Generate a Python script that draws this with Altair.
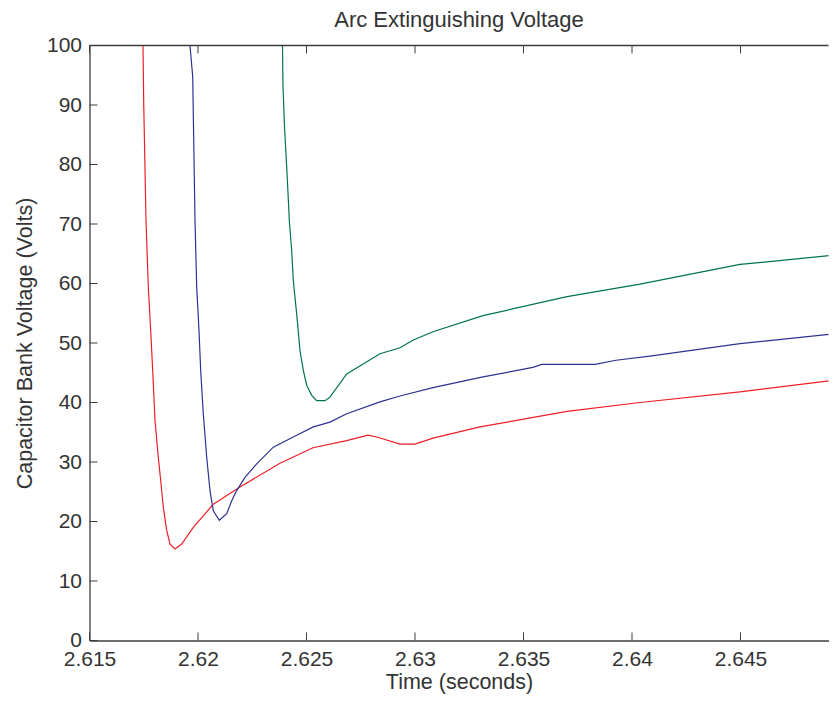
import altair as alt
import pandas as pd

title_text = "Arc Extinguishing Voltage"
x_title = "Time (seconds)"
y_title = "Capacitor Bank Voltage (Volts)"

x_ticks = [2.615, 2.62, 2.625, 2.63, 2.635, 2.64, 2.645]
y_ticks = [0, 10, 20, 30, 40, 50, 60, 70, 80, 90, 100]

series_names = ["Red", "Blue", "Green"]
series_colors = ["#ee1d25", "#2e3192", "#00734f"]

red_t = [2.617465, 2.617500, 2.617604, 2.617710, 2.617820, 2.617912, 2.618018,
         2.618171, 2.618281, 2.618401, 2.618558, 2.618710, 2.618940, 2.619249,
         2.619783, 2.620705, 2.621935, 2.623779, 2.625300, 2.626853, 2.627834,
         2.628235, 2.629309, 2.630000, 2.630830, 2.632995, 2.635000, 2.637005,
         2.640369, 2.644977, 2.649447]
red_v = [100.0, 90.0, 70.6, 59.4, 52.1, 45.4, 37.0,
         30.8, 26.9, 22.4, 18.5, 16.2, 15.4, 16.2,
         19.0, 22.9, 25.8, 29.8, 32.4, 33.6, 34.5,
         34.2, 33.0, 33.0, 34.0, 35.9, 37.2, 38.5,
         40.0, 41.8, 43.8]

blue_t = [2.619631, 2.619756, 2.619862, 2.619940, 2.620046, 2.620124, 2.620244,
          2.620401, 2.620553, 2.620705, 2.620982, 2.621323, 2.621553, 2.621783,
          2.622166, 2.622705, 2.623470, 2.624548, 2.625313, 2.626083, 2.626853,
          2.628387, 2.629309, 2.630829, 2.633134, 2.635433, 2.635839, 2.638295,
          2.639263, 2.640829, 2.644977, 2.649447]
blue_v = [100.0, 94.8, 70.6, 59.4, 52.1, 45.4, 38.1,
          30.8, 25.2, 21.8, 20.2, 21.3, 23.5, 25.2,
          27.4, 29.7, 32.5, 34.5, 35.9, 36.7, 38.1,
          40.1, 41.1, 42.5, 44.3, 45.9, 46.4, 46.4,
          47.1, 47.8, 49.9, 51.6]

green_t = [2.623894, 2.623916, 2.623986, 2.624078, 2.624171, 2.624208, 2.624318,
           2.624392, 2.624576, 2.624700, 2.624853, 2.625009, 2.625240, 2.625470,
           2.625853, 2.626083, 2.626853, 2.628387, 2.629309, 2.629922, 2.630829,
           2.633134, 2.637005, 2.640369, 2.644977, 2.649447]
green_v = [100.0, 93.3, 86.4, 80.2, 73.5, 70.6, 65.5,
           60.5, 53.8, 48.7, 45.4, 42.9, 41.2, 40.3,
           40.3, 40.9, 44.8, 48.2, 49.2, 50.5, 51.9,
           54.6, 57.8, 59.9, 63.2, 64.8]

rows = []
for name, ts, vs in [("Red", red_t, red_v), ("Blue", blue_t, blue_v), ("Green", green_t, green_v)]:
    for i, (t, v) in enumerate(zip(ts, vs)):
        rows.append({"series": name, "t": t, "v": v, "idx": i})
df = pd.DataFrame(rows)

W = 739
H = 595
PAD_L, PAD_T, PAD_B = 81.5, 37.5, 53.5
FONT = "Liberation Sans"
AXIS_COLOR = "#3c3c3c"
TEXT_COLOR = "#333333"
TICK_LEN = 8
X_END = 2.615 + 0.005 * W / 108.5

x_scale = alt.Scale(domain=[2.615, X_END], nice=False, zero=False)
y_scale = alt.Scale(domain=[0, 100], nice=False, zero=False)

x_axis = alt.Axis(values=x_ticks, format=".4~f", title=x_title, ticks=False,
                  grid=False, labelPadding=8, titlePadding=2,
                  labelFlush=False, labelOverlap=False,
                  domainColor=AXIS_COLOR, domainWidth=1.3)
y_axis = alt.Axis(values=y_ticks, title=y_title, ticks=False, grid=False,
                  labelPadding=8, titlePadding=10,
                  labelFlush=False, labelOverlap=False,
                  domainColor=AXIS_COLOR, domainWidth=1.3)

lines = alt.Chart(df).mark_line(strokeWidth=1.2, clip=True).encode(
    x=alt.X("t:Q", scale=x_scale, axis=x_axis),
    y=alt.Y("v:Q", scale=y_scale, axis=y_axis),
    color=alt.Color("series:N", scale=alt.Scale(domain=series_names, range=series_colors),
                    legend=None),
    detail="series:N",
    order="idx:Q",
)

xt = pd.DataFrame({"t": x_ticks})
yt = pd.DataFrame({"v": y_ticks})

xticks_bottom = alt.Chart(xt).mark_rule(color=AXIS_COLOR, strokeWidth=1).encode(
    x=alt.X("t:Q", scale=x_scale, axis=x_axis),
    y=alt.value(H), y2=alt.value(H - TICK_LEN))
xticks_top = alt.Chart(xt).mark_rule(color=AXIS_COLOR, strokeWidth=1).encode(
    x=alt.X("t:Q", scale=x_scale, axis=x_axis),
    y=alt.value(0), y2=alt.value(TICK_LEN))
yticks = alt.Chart(yt).mark_rule(color=AXIS_COLOR, strokeWidth=1).encode(
    y=alt.Y("v:Q", scale=y_scale, axis=y_axis),
    x=alt.value(0), x2=alt.value(TICK_LEN))
top_border = alt.Chart(pd.DataFrame({"a": [0]})).mark_rule(
    color=AXIS_COLOR, strokeWidth=1.3).encode(
    x=alt.value(0), x2=alt.value(W), y=alt.value(0))

chart = alt.layer(lines, xticks_bottom, xticks_top, yticks, top_border).properties(
    width=W, height=H,
    title=alt.TitleParams(title_text, fontSize=22, font=FONT, fontWeight="normal",
                          color=TEXT_COLOR, anchor="middle", offset=3),
    autosize=alt.AutoSizeParams(type="none"),
    padding={"left": PAD_L, "top": PAD_T, "right": 0, "bottom": PAD_B},
).configure_view(stroke=None).configure_axis(
    labelFont=FONT, titleFont=FONT, labelFontSize=21, titleFontSize=21.5,
    labelColor=TEXT_COLOR, titleColor=TEXT_COLOR, titleFontWeight="normal",
)

chart.save("out.html", embed_options={"renderer": "svg", "actions": False})
